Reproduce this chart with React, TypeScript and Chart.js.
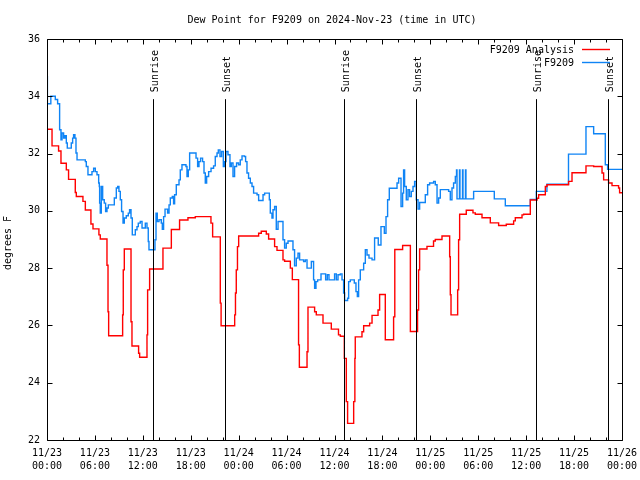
import React, { useEffect, useRef } from "react";
import { Chart, registerables } from "chart.js";

Chart.register(...registerables);

const TITLE = "Dew Point for F9209 on 2024-Nov-23 (time in UTC)";
const Y_TITLE = "degrees F";
const SERIES_NAMES = ["F9209 Analysis", "F9209"];

// hours since 2024-11-23 00:00 UTC
const xTickLabels = [
  ["11/23", "00:00"], ["11/23", "06:00"], ["11/23", "12:00"], ["11/23", "18:00"],
  ["11/24", "00:00"], ["11/24", "06:00"], ["11/24", "12:00"], ["11/24", "18:00"],
  ["11/25", "00:00"], ["11/25", "06:00"], ["11/25", "12:00"], ["11/25", "18:00"],
  ["11/26", "00:00"],
];

const sunEventNames = ["Sunrise", "Sunset", "Sunrise", "Sunset", "Sunrise", "Sunset"];
const sunEventHours = [13.22, 22.24, 37.14, 46.16, 61.18, 70.2];

const analysisHours = [
  0, 0.63, 1.45, 1.75, 2.42, 2.7, 3.54, 3.67, 4.5, 4.8, 5.5, 5.76, 6.5, 6.67, 7.51, 7.64, 7.72,
  9.47, 9.55, 9.68, 10.52, 10.64, 11.47, 11.6, 12.52, 12.6, 12.85, 14.52, 15.57, 16.6, 17.65,
  18.57, 20.53, 20.74, 21.7, 21.8, 23.5, 23.6, 23.7, 23.85, 24.0, 26.5, 26.83, 27.46, 27.75,
  28.5, 28.8, 29.55, 29.75, 30.47, 30.72, 31.5, 31.6, 32.56, 32.68, 33.51, 33.72, 34.56, 35.6,
  36.5, 36.73, 37.23, 37.48, 37.64, 38.4, 38.55, 38.6, 39.44, 39.65, 40.4, 40.7, 41.45, 41.65,
  42.36, 43.4, 43.55, 44.53, 45.5, 46.4, 46.53, 46.66, 47.58, 48.4, 48.62, 49.46, 50.42, 50.5,
  50.59, 51.42, 51.54, 51.67, 52.5, 53.34, 53.63, 54.47, 55.51, 56.55, 57.51, 58.43, 58.64,
  59.48, 59.68, 60.52, 61.36, 61.56, 62.4, 62.61, 65.31, 65.74, 67.49, 68.45, 69.5, 69.7,
  70.32, 70.75, 71.57, 71.7, 72,
];
const analysisValues = [
  32.85, 32.27, 32.09, 31.66, 31.43, 31.1, 30.64, 30.5, 30.33, 30.03, 29.54, 29.37, 29.16, 29.02, 28.1, 26.48, 25.64,
  26.37, 27.94, 28.67, 26.13, 25.28, 25.03, 24.89, 25.67, 27.24, 27.97, 28.7, 29.35, 29.68, 29.76,
  29.8, 29.57, 29.09, 26.78, 25.99, 26.37, 27.13, 27.94, 28.75, 29.12, 29.22, 29.29, 29.19, 29.02,
  28.75, 28.62, 28.29, 28.24, 28.0, 27.6, 25.32, 24.54, 25.08, 26.64, 26.48, 26.37, 26.08, 25.87,
  25.67, 25.62, 24.85, 23.34, 22.58, 23.34, 24.85, 25.6, 25.78, 25.99, 26.08, 26.35, 26.54, 27.08,
  25.5, 26.3, 28.65, 28.79, 25.79, 26.54, 27.94, 28.67, 28.76, 28.95, 29.0, 29.12, 28.4, 27.07,
  26.37, 27.24, 28.99, 29.88, 30.02, 29.93, 29.88, 29.76, 29.58, 29.49, 29.53, 29.65, 29.76,
  29.86, 29.88, 30.38, 30.44, 30.56, 30.85, 30.91, 31.03, 31.33, 31.57, 31.55, 31.32, 31.08,
  30.97, 30.88, 30.8, 30.63, 30.63,
];

const stationHours = [
  0, 0.05, 0.48, 1.04, 1.33, 1.58, 1.75, 1.88, 2.08, 2.25, 2.42, 2.54, 3.04, 3.21, 3.33, 3.5,
  3.63, 3.76, 4.8, 4.92, 5.13, 5.63, 5.84, 6.05, 6.26, 6.47, 6.55, 6.59, 6.67, 6.8, 6.97, 7.17,
  7.34, 7.51, 7.68, 8.43, 8.68, 8.85, 9.01, 9.18, 9.34, 9.52, 9.68, 9.93, 10.18, 10.34, 10.52,
  10.68, 11.06, 11.27, 11.43, 11.68, 11.9, 12.31, 12.52, 12.68, 12.77, 13.52, 13.65, 13.81,
  14.02, 14.31, 14.44, 14.6, 14.78, 15.1, 15.28, 15.44, 15.69, 15.85, 15.98, 16.19, 16.53,
  16.69, 16.9, 17.4, 17.53, 17.69, 17.86, 18.66, 18.86, 19.03, 19.23, 19.48, 19.66, 19.82,
  19.99, 20.24, 20.54, 20.86, 21.07, 21.29, 21.45, 21.66, 21.86, 22.08, 22.2, 22.41, 22.66,
  22.91, 23.08, 23.29, 23.49, 23.74, 23.99, 24.2, 24.42, 24.71, 24.87, 25.04, 25.24, 25.46,
  25.67, 25.87, 26.3, 26.5, 27.05, 27.25, 27.84, 27.96, 28.17, 28.3, 28.5, 28.71, 28.93,
  29.55, 29.75, 29.96, 30.18, 30.8, 31.0, 31.22, 31.43, 31.63, 32.13, 32.34, 32.56, 33.1,
  33.38, 33.51, 33.68, 33.89, 34.31, 34.89, 35.1, 35.31, 36.01, 36.23, 36.44, 36.73, 36.94,
  37.14, 37.27, 37.64, 37.77, 37.98, 38.48, 38.69, 38.86, 39.02, 39.23, 39.65, 39.86, 40.07,
  40.32, 40.7, 41.02, 41.48, 41.82, 42.24, 42.45, 42.65, 42.86, 43.83, 44.03, 44.33, 44.53,
  44.65, 44.78, 44.99, 45.2, 45.4, 45.62, 45.83, 46.03, 46.24, 46.46, 46.66, 47.37, 47.66,
  47.91, 48.41, 48.62, 48.84, 49.04, 49.25, 50.29, 50.5, 50.71, 50.91, 51.13,
  51.28, 51.34, 51.65, 51.71, 52.03, 52.09, 52.4, 52.46, 53.42, 56.01, 57.39, 60.52, 61.27,
  62.6, 65.3, 67.49, 68.45, 69.91, 70.2, 72,
];
const stationValues = [
  34.69, 33.74, 34.0, 33.89, 33.74, 32.83, 32.48, 32.72, 32.54, 32.62, 32.37, 32.19, 32.37, 32.54, 32.66, 32.54,
  32.02, 31.78, 31.72, 31.55, 31.26, 31.37, 31.49, 31.37, 31.26, 30.97, 30.85, 30.27, 29.92, 30.85, 30.39, 30.27,
  29.98, 30.1, 30.21, 30.45, 30.8, 30.85, 30.68, 30.39, 29.98, 29.57, 29.75, 29.83, 29.92, 30.04, 29.75,
  29.16, 29.34, 29.45, 29.57, 29.63, 29.4, 29.57, 29.4, 28.93, 28.64, 28.99, 29.92, 29.63,
  29.69, 29.57, 29.36, 29.8, 30.06, 29.92, 30.21, 30.45, 30.5, 30.25, 30.56, 30.91, 31.08,
  31.43, 31.61, 31.55, 31.2, 31.43, 32.02, 31.84, 31.55, 31.72, 31.84, 31.72, 31.32, 30.97,
  31.2, 31.37, 31.49, 31.57, 31.9, 32.02, 32.13, 31.9, 32.07, 31.55, 31.72, 32.07, 31.96,
  31.55, 31.67, 31.2, 31.55, 31.67, 31.61, 31.78, 31.92, 31.9, 31.72, 31.32, 31.14, 30.97,
  30.85, 30.62, 30.56, 30.36, 30.56, 30.62, 30.39, 29.92, 29.75, 30.04, 30.15, 29.36, 29.63,
  28.99, 28.7, 28.87, 28.95, 28.64, 28.08, 28.35, 28.52, 28.29, 28.23, 28.29, 28.0, 28.23,
  27.59, 27.3, 27.53, 27.59, 27.8, 27.59, 27.77, 27.59, 27.8, 27.59, 27.77, 27.8, 27.59,
  27.13, 26.87, 26.95, 27.53, 27.59, 27.48, 27.18, 27.01, 27.59, 27.94, 28.17, 28.64, 28.46,
  28.35, 28.29, 29.05, 28.81, 29.45, 29.22, 29.8, 30.39, 30.79, 30.97, 31.14, 30.15, 30.62,
  31.43, 30.85, 30.39, 30.74, 30.5, 30.68, 30.85, 31.03, 30.39, 30.06, 30.29, 30.56, 30.91,
  30.97, 31.03, 30.91, 30.27, 30.45, 30.74, 30.68, 30.39, 30.8, 30.97, 31.2,
  31.43, 30.42, 31.43, 30.42, 31.43, 30.42, 31.43, 30.42, 30.68, 30.42, 30.18, 30.4, 30.68,
  30.93, 31.98, 32.94, 32.69, 31.61, 31.45, 31.45,
];

const RED = "#ff0000";
const BLUE = "#0f84f5";
const FONT = "'DejaVu Sans Mono', 'Liberation Mono', monospace";

const gnuplotDecor = {
  id: "gnuplotDecor",
  afterDatasetsDraw(chart: any) {
    const { ctx, chartArea: a, scales } = chart;
    const xs = scales.x;
    const ys = scales.y;
    ctx.save();
    ctx.strokeStyle = "#000";
    ctx.lineWidth = 1;
    // sun lines
    ctx.font = `10px ${FONT}`;
    ctx.fillStyle = "#000";
    const yTopLine = a.bottom - 0.85 * (a.bottom - a.top);
    sunEventHours.forEach((h, i) => {
      const px = Math.round(xs.getPixelForValue(h)) + 0.5;
      ctx.beginPath();
      ctx.moveTo(px, yTopLine);
      ctx.lineTo(px, a.bottom);
      ctx.stroke();
      ctx.save();
      ctx.translate(px + 4.5, yTopLine - 7);
      ctx.rotate(-Math.PI / 2);
      ctx.textAlign = "left";
      ctx.textBaseline = "alphabetic";
      ctx.fillText(sunEventNames[i], 0, 0);
      ctx.restore();
    });
    // frame
    const L = Math.round(a.left) + 0.5;
    const R = Math.round(a.right) + 0.5;
    const T = Math.round(a.top) + 0.5;
    const B = Math.round(a.bottom) + 0.5;
    ctx.beginPath();
    ctx.rect(L, T, R - L, B - T);
    ctx.stroke();
    // ticks
    ctx.beginPath();
    for (let h = 0; h <= 72; h += 2) {
      const px = Math.round(xs.getPixelForValue(h)) + 0.5;
      const len = h % 6 === 0 ? 5 : 3;
      ctx.moveTo(px, B);
      ctx.lineTo(px, B - len);
      ctx.moveTo(px, T);
      ctx.lineTo(px, T + len);
    }
    for (let v = 22; v <= 36; v += 2) {
      const py = Math.round(ys.getPixelForValue(v)) + 0.5;
      ctx.moveTo(L, py);
      ctx.lineTo(L + 5, py);
      ctx.moveTo(R, py);
      ctx.lineTo(R - 5, py);
    }
    ctx.stroke();
    // legend
    const colors = [RED, BLUE];
    const ly = [50, 63];
    SERIES_NAMES.forEach((name, i) => {
      ctx.fillStyle = "#000";
      ctx.textAlign = "right";
      ctx.textBaseline = "middle";
      ctx.fillText(name, 574, ly[i]);
      ctx.strokeStyle = colors[i];
      ctx.lineWidth = 1.4;
      ctx.beginPath();
      ctx.moveTo(582, ly[i] - 0.5);
      ctx.lineTo(610, ly[i] - 0.5);
      ctx.stroke();
    });
    // title
    ctx.fillStyle = "#000";
    ctx.textAlign = "center";
    ctx.textBaseline = "middle";
    ctx.fillText(TITLE, 332, 20);
    // y title
    ctx.save();
    ctx.translate(8.5, 243);
    ctx.rotate(-Math.PI / 2);
    ctx.textAlign = "center";
    ctx.textBaseline = "middle";
    ctx.fillText(Y_TITLE, 0, 0);
    ctx.restore();
    ctx.restore();
  },
};

export default function App() {
  const ref = useRef<HTMLCanvasElement | null>(null);
  useEffect(() => {
    if (!ref.current) return;
    const toPts = (hs: number[], vs: number[]) => hs.map((h, i) => ({ x: h, y: vs[i] }));
    const chart = new Chart(ref.current, {
      type: "line",
      data: {
        datasets: [
          {
            label: SERIES_NAMES[0],
            data: toPts(analysisHours, analysisValues),
            borderColor: RED,
            borderWidth: 1.4,
            pointRadius: 0,
            stepped: true,
            fill: false,
          },
          {
            label: SERIES_NAMES[1],
            data: toPts(stationHours, stationValues),
            borderColor: BLUE,
            borderWidth: 1.4,
            pointRadius: 0,
            stepped: true,
            fill: false,
          },
        ],
      },
      plugins: [gnuplotDecor],
      options: {
        animation: false,
        responsive: false,
        devicePixelRatio: 1,
        layout: { padding: { top: 39, right: 18, left: 0, bottom: 0 } },
        plugins: {
          legend: { display: false },
          title: { display: false },
          tooltip: { enabled: false },
        },
        scales: {
          x: {
            type: "linear",
            min: 0,
            max: 72,
            afterFit: (s: any) => {
              s.height = 40;
              s.paddingLeft = 0;
              s.paddingRight = 0;
            },
            grid: { display: false, drawTicks: false },
            border: { display: false },
            ticks: {
              stepSize: 6,
              autoSkip: false,
              maxRotation: 0,
              padding: 7,
              color: "#000",
              font: { family: FONT, size: 10, lineHeight: 1.3 },
              callback: (v: any) => xTickLabels[Math.round(Number(v) / 6)] ?? "",
            },
          },
          y: {
            min: 22,
            max: 36,
            afterFit: (s: any) => {
              s.width = 47;
              s.paddingTop = 0;
              s.paddingBottom = 0;
            },
            grid: { display: false, drawTicks: false },
            border: { display: false },
            ticks: {
              stepSize: 2,
              padding: 7,
              color: "#000",
              font: { family: FONT, size: 10 },
            },
          },
        },
      },
    });
    return () => chart.destroy();
  }, []);
  return (
    <div style={{ position: "fixed", left: 0, top: 0, width: 640, height: 480, background: "#fff" }}>
      <canvas ref={ref} width={640} height={480} style={{ width: 640, height: 480 }} />
    </div>
  );
}
